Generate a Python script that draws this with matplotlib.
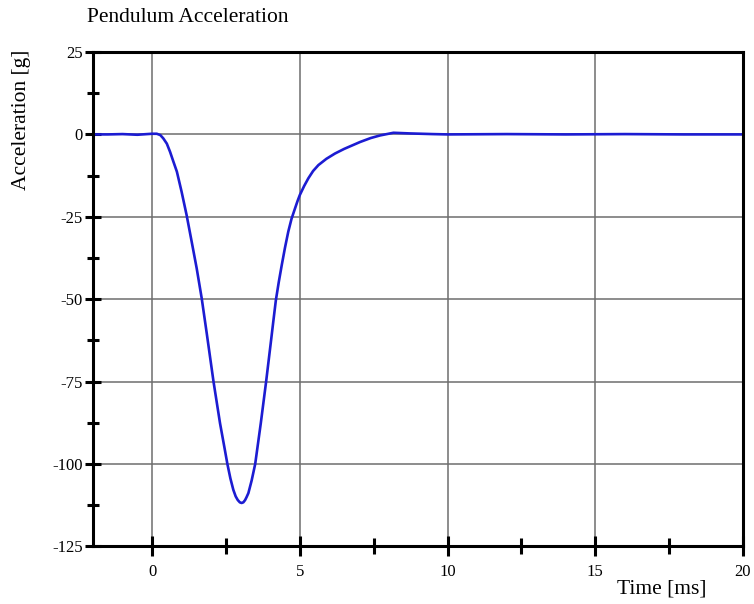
import numpy as np
import matplotlib
matplotlib.use("Agg")
import matplotlib.pyplot as plt
from matplotlib.ticker import MultipleLocator, FixedLocator

# ------------------------- data -------------------------
time_ms = [-2.0, -1.5, -1.0, -0.5, 0.0, 0.16, 0.28, 0.38, 0.50, 0.61,
           0.72, 0.84, 1.00, 1.17, 1.34, 1.51, 1.68, 1.85, 2.08, 2.30,
           2.45, 2.55, 2.65, 2.75, 2.83, 2.90, 2.97, 3.03, 3.09, 3.15,
           3.20, 3.26, 3.37, 3.49, 3.68, 3.86, 4.03, 4.10, 4.19, 4.29,
           4.39, 4.50, 4.61, 4.72, 4.84, 4.92, 5.00, 5.15, 5.29, 5.45,
           5.63, 5.90, 6.19, 6.50, 7.04, 7.40, 7.72, 8.17, 8.73, 9.5,
           10.0, 12.0, 14.0, 16.0, 18.0, 20.0]
accel_g = [0.0, 0.0, 0.1, -0.1, 0.2, 0.2, -0.2, -1.2, -2.8, -5.3,
           -8.2, -11.3, -17.4, -24.5, -32.5, -40.6, -49.7, -60.3, -75.0, -87.6,
           -95.0, -100.0, -104.3, -107.8, -109.8, -110.9, -111.6, -111.8, -111.6, -110.9,
           -110.0, -108.8, -105.0, -100.0, -87.6, -75.0, -62.3, -57.0, -50.3, -44.7,
           -39.6, -34.3, -29.5, -25.6, -22.4, -20.3, -18.4, -15.6, -13.3, -11.1,
           -9.3, -7.4, -5.8, -4.4, -2.3, -1.1, -0.3, 0.5, 0.3, 0.1,
           0.0, 0.1, 0.0, 0.1, 0.0, 0.0]

y_major = [-125, -100, -75, -50, -25, 0, 25]
x_major = [0, 5, 10, 15, 20]
x_minor = [2.5, 7.5, 12.5, 17.5]

# ------------------------- style -------------------------
plt.rcParams['font.family'] = ['Liberation Serif', 'DejaVu Serif']
plt.rcParams['axes.unicode_minus'] = False

fig = plt.figure(figsize=(7.54, 6.04), dpi=100)
ax = fig.add_axes([0.1233, 0.0952, 0.8621, 0.8187])

ax.plot(time_ms, accel_g, color='#1c1cd2', lw=1.9,
        solid_joinstyle='round', solid_capstyle='round')

ax.set_xlim(-2, 20)
ax.set_ylim(-125, 25)

ax.xaxis.set_major_locator(FixedLocator(x_major))
ax.xaxis.set_minor_locator(FixedLocator(x_minor))
ax.yaxis.set_major_locator(FixedLocator(y_major))
ax.yaxis.set_minor_locator(MultipleLocator(12.5))

ax.grid(True, which='major', color='#6e6e6e', lw=1.1)
ax.set_axisbelow(True)

for s in ax.spines.values():
    s.set_linewidth(2.2)
    s.set_color('black')
    s.set_zorder(3)

ax.tick_params(axis='x', which='major', direction='inout', length=15, width=2.2, pad=5, labelsize=12)
ax.tick_params(axis='x', which='minor', direction='inout', length=12, width=2.2)
ax.tick_params(axis='y', which='major', direction='inout', length=12, width=2.2, pad=1.5, labelsize=12)
ax.tick_params(axis='y', which='minor', direction='inout', length=8, width=2.2)

fig.text(0.029, 0.801, 'Acceleration [g]', fontsize=15.5, rotation=90, ha='center', va='center')
fig.text(0.1154, 0.971, 'Pendulum Acceleration', fontsize=15.5, ha='left', va='center')
fig.text(0.878, 0.025, 'Time [ms]', fontsize=15.5, ha='center', va='center')

fig.savefig('out.png', dpi=100)
